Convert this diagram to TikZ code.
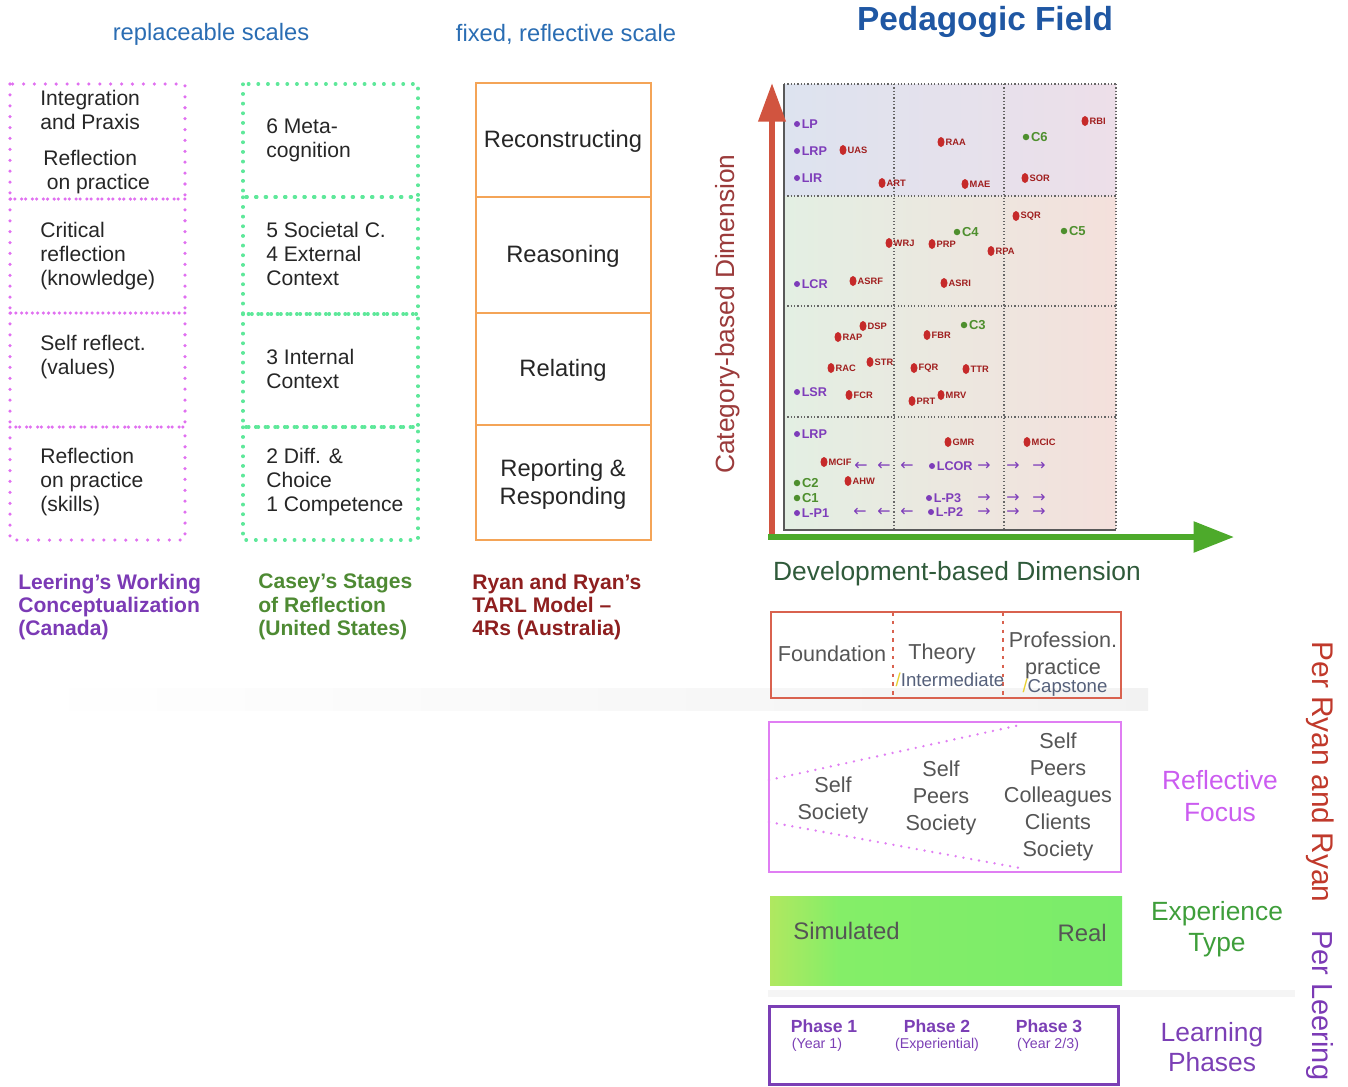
\documentclass[tikz,border=0pt]{standalone}
\usepackage{fontspec}
\setmainfont{Liberation Sans}
\newfontfamily\flechefont{DejaVu Sans}
\usetikzlibrary{arrows.meta,shapes.geometric}

\definecolor{titrebleu}{HTML}{2A6DB3}
\definecolor{champbleu}{HTML}{1F57A3}
\definecolor{violetL}{HTML}{7B3AB5}
\definecolor{vertC}{HTML}{4E8A33}
\definecolor{rougeR}{HTML}{8E1F1F}
\definecolor{magpt}{HTML}{E070F0}
\definecolor{vertpt}{HTML}{5EE89A}
\definecolor{orangeB}{HTML}{F4A457}
\definecolor{ptrouge}{HTML}{C62A2A}
\definecolor{etrouge}{HTML}{A01E1E}
\definecolor{ptviolet}{HTML}{7E3DBA}
\definecolor{ptvert}{HTML}{4E8F2E}
\definecolor{flecherouge}{HTML}{D1543F}
\definecolor{flecheverte}{HTML}{4DAA2B}
\definecolor{axecat}{HTML}{9B3B3B}
\definecolor{axedev}{HTML}{2F5A3A}
\definecolor{grisT}{HTML}{555555}
\definecolor{grisB}{HTML}{55607A}
\definecolor{jauneB}{HTML}{E8D030}
\definecolor{niveau}{HTML}{D9624F}
\definecolor{reflet}{HTML}{E07EF3}
\definecolor{reflettexte}{HTML}{CB5CF0}
\definecolor{exptexte}{HTML}{3E9E3A}
\definecolor{phase}{HTML}{7B3FB5}
\definecolor{perryan}{HTML}{C0392B}
\definecolor{cielA}{HTML}{DDE3EF}
\definecolor{cielB}{HTML}{E9E9E4}
\definecolor{cielC}{HTML}{EDDFE9}
\definecolor{fondA}{HTML}{E3EFE3}
\definecolor{fondB}{HTML}{F6F2DA}
\definecolor{fondC}{HTML}{F4E0DC}
\definecolor{expA}{HTML}{B0E860}
\definecolor{expB}{HTML}{84EE68}
\definecolor{expC}{HTML}{7AEC6A}

\begin{document}
\begin{tikzpicture}[x=0.02cm, y=-0.02cm,
    cellule/.style={inner sep=0pt, anchor=west, align=left, text=black!85,
        font=\fontsize{12}{13.6}\selectfont},
    ryan/.style={inner sep=0pt, align=center, text=black!85,
        font=\fontsize{13.5}{16}\selectfont},
    source/.style={inner sep=0pt, anchor=west, align=left,
        font=\bfseries\fontsize{12}{13.3}\selectfont},
    entete/.style={inner sep=0pt, text=titrebleu, font=\fontsize{13.5}{16}\selectfont},
    ptsmag/.style={draw=magpt, line width=2pt, line cap=round, dash pattern=on 0pt off 6.2pt},
    ptsvert/.style={draw=vertpt, line width=1.9pt, line cap=round, dash pattern=on 0.3pt off 5.2pt},
    boite/.style={draw=orangeB, line width=1.4pt},
    grille/.style={draw=black!60, line width=0.7pt, dash pattern=on 0.7pt off 1.2pt},
    violetpt/.style={circle, fill=ptviolet, inner sep=0pt, minimum size=0.12cm},
    vertpoint/.style={circle, fill=ptvert, inner sep=0pt, minimum size=0.13cm},
    rougept/.style={ellipse, fill=ptrouge, inner sep=0pt, minimum width=0.14cm, minimum height=0.2cm},
    etiqV/.style={inner sep=0pt, anchor=west, text=ptviolet, font=\bfseries\fontsize{7.2}{8}\selectfont},
    etiqVert/.style={inner sep=0pt, anchor=west, text=ptvert, font=\bfseries\fontsize{7.4}{8}\selectfont},
    etiqR/.style={inner sep=0pt, anchor=west, text=etrouge, font=\bfseries\fontsize{5.3}{6}\selectfont},
    petitefleche/.style={inner sep=0pt, text=ptviolet, font=\flechefont\fontsize{9}{10}\selectfont},
    gris/.style={inner sep=0pt, align=center, text=grisT, font=\fontsize{12.3}{15.3}\selectfont},
    titre/.style={inner sep=0pt, align=center, font=\fontsize{15}{18}\selectfont},
    phasetitre/.style={inner sep=0pt, text=phase, font=\bfseries\fontsize{10}{12}\selectfont},
    phasesous/.style={inner sep=0pt, text=phase, font=\fontsize{8.1}{10}\selectfont}]
\useasboundingbox (0,0) rectangle (1348,1086);

% En-têtes
\node[entete] (remp) at (211,34) {replaceable scales};
\node[entete] (fixe) at (566,34) {fixed, reflective scale};
\node[inner sep=0pt, text=champbleu, font=\bfseries\fontsize{19}{22}\selectfont] (champ) at (985,22) {Pedagogic Field};

% Les trois colonnes de cases
\foreach \haut/\bas in {84/199, 199/313, 313/427, 427/540}{
    \draw[ptsmag] (10,\haut) rectangle (185,\bas);
}
\foreach \haut/\bas in {84/197, 197/314, 314/427, 427/540}{
    \draw[ptsvert] (243,\haut) rectangle (418,\bas);
}
\foreach \haut/\bas in {83/197, 197/313, 313/425, 425/540}{
    \draw[boite] (476,\haut) rectangle (651,\bas);
}

% Textes de Leering
\node[cellule] (integ) at (40,110) {Integration\\and Praxis};
\node[cellule] (refpra) at (43,172) {Reflection\\\hspace{2pt}on practice};
\node[cellule] (crit) at (40,256) {Critical\\reflection\\(knowledge)};
\node[cellule] (selfr) at (40,357) {Self reflect.\\(values)};
\node[cellule] (skill) at (40,482) {Reflection\\on practice\\(skills)};

% Textes de Casey
\node[cellule] (meta) at (266,140) {6 Meta-\\cognition};
\node[cellule] (soc) at (266,254) {5 Societal C.\\4 External\\Context};
\node[cellule] (intc) at (266,369) {3 Internal\\Context};
\node[cellule] (comp) at (266,482) {2 Diff. \&\\Choice\\1 Competence};

% Les 4R
\foreach \y/\nom/\texte in {141/recon/Reconstructing, 256/reas/Reasoning,
    370/rela/Relating, 484/repo/{Reporting \&\\Responding}}{
    \node[ryan] (\nom) at (563,\y) {\texte};
}

% Sources
\node[source, text=violetL] (leering) at (18,607) {Leering’s Working\\Conceptualization\\(Canada)};
\node[source, text=vertC] (casey) at (258,607) {Casey’s Stages\\of Reflection\\(United States)};
\node[source, text=rougeR] (ryanR) at (472,607) {Ryan and Ryan’s\\TARL Model –\\4Rs (Australia)};

% Bandes pâles
\shade[left color=white, right color=black!5] (25,688) rectangle (1148,710);
\fill[black!4] (768,990) rectangle (1295,997);

% Le champ : fond et grille
\shade[left color=cielA, middle color=cielB, right color=cielC] (784,84) rectangle (1116,196);
\shade[left color=fondA, middle color=fondB, right color=fondC] (784,196) rectangle (1116,530);
\foreach \x in {894, 1004, 1116}{
    \draw[grille] (\x,84) -- (\x,530);
}
\foreach \y in {84, 196, 306, 417}{
    \draw[grille] (784,\y) -- (1116,\y);
}
\draw[black!65, line width=0.8pt] (784,84) -- (784,530) -- (1116,530);

% Axes
\coordinate (origR) at (772,534);
\coordinate (hautR) at (772,83);
\coordinate (origV) at (768,537);
\coordinate (finV) at (1234,537);
\draw[flecheverte, line width=3.4pt, -{Triangle[length=23pt,width=17pt]}] (origV) -- (finV);
\draw[flecherouge, line width=3.4pt, -{Triangle[length=22pt,width=15pt]}] (origR) -- (hautR);
\node[inner sep=0pt, rotate=90, text=axecat, font=\fontsize{15}{18}\selectfont] (axeC) at (728,314) {Category-based Dimension};
\node[inner sep=0pt, text=axedev, font=\fontsize{15}{18}\selectfont] (axeD) at (957,574) {Development-based Dimension};

% Points violets
\foreach \x/\y/\nom/\texte in {797/124/LP/LP, 797/151/LRPa/LRP, 797/178/LIR/LIR,
    797/284/LCR/LCR, 797/392/LSR/LSR, 797/434/LRPb/LRP, 932/466/LCOR/LCOR,
    929/498/LPtrois/L-P3, 797/513/LPun/L-P1, 931/512/LPdeux/L-P2}{
    \node[violetpt] (p\nom) at (\x,\y) {};
    \node[etiqV] (\nom) at ([xshift=0.6pt]p\nom.east) {\texte};
}

% Points verts
\foreach \x/\y/\nom in {1026/137/C6, 957/232/C4, 1064/231/C5, 964/325/C3,
    797/483/C2, 797/498/C1}{
    \node[vertpoint] (p\nom) at (\x,\y) {};
    \node[etiqVert] (\nom) at ([xshift=0.6pt]p\nom.east) {\nom};
}

% Points rouges
\foreach \x/\y/\nom in {843/150/UAS, 882/183/ART, 941/142/RAA, 965/184/MAE,
    1025/178/SOR, 1085/121/RBI, 1016/216/SQR, 889/243/WRJ, 932/244/PRP,
    991/251/RPA, 853/281/ASRF, 944/283/ASRI, 863/326/DSP, 838/337/RAP,
    927/335/FBR, 831/368/RAC, 870/362/STR, 914/368/FQR, 966/369/TTR,
    849/395/FCR, 912/401/PRT, 941/395/MRV, 948/442/GMR, 1027/442/MCIC,
    824/462/MCIF, 848/481/AHW}{
    \node[rougept] (p\nom) at (\x,\y) {};
    \node[etiqR] (\nom) at ([xshift=0.3pt]p\nom.east) {\nom};
}

% Petites flèches
\foreach \x/\y in {861/466, 884/466, 907/466, 860/512, 884/512, 907/512}{
    \node[petitefleche] (g\x\y) at (\x,\y) {←};
}
\foreach \x/\y in {984/466, 1013/466, 1039/466, 984/498, 1013/498, 1039/498,
    984/512, 1013/512, 1039/512}{
    \node[petitefleche] (d\x\y) at (\x,\y) {→};
}

% Niveaux
\draw[niveau, line width=1.2pt] (771,612) rectangle (1121,698);
\foreach \x in {893, 1003}{
    \draw[niveau, line width=1.3pt, dash pattern=on 2pt off 3pt] (\x,612) -- (\x,698);
}
\node[gris] (found) at (832,654) {Foundation};
\node[gris] (theo) at (942,654) {Theory};
\node[gris, font=\fontsize{10.6}{12}\selectfont, text=grisB] (inter) at (950,680) {\textcolor{jauneB}{/}Intermediate};
\node[gris] (prof) at (1063,655) {Profession.\\practice};
\node[gris, font=\fontsize{10.6}{12}\selectfont, text=grisB] (caps) at (1065,688) {\textcolor{jauneB}{/}Capstone};

% Focus réflexif
\draw[reflet, line width=1.2pt] (769,722) rectangle (1121,872);
\draw[reflet, line width=1.5pt, line cap=round, dash pattern=on 0pt off 4.5pt] (769,780) -- (1020,725);
\draw[reflet, line width=1.5pt, line cap=round, dash pattern=on 0pt off 4.5pt] (769,822) -- (1020,868);
\node[gris] (f1) at (833,800) {Self\\Society};
\node[gris] (f2) at (941,798) {Self\\Peers\\Society};
\node[gris] (f3) at (1058,797) {Self\\Peers\\Colleagues\\Clients\\Society};
\node[titre, text=reflettexte] (focus) at (1220,796) {Reflective\\Focus};

% Expérience
\shade[left color=expA, right color=expB] (770,896) rectangle (840,985);
\shade[left color=expB, right color=expC] (840,896) rectangle (1122,985);
\node[gris, anchor=west, font=\fontsize{13.6}{16}\selectfont] (simu) at (793,931) {Simulated};
\node[gris, anchor=east, font=\fontsize{13.6}{16}\selectfont] (reel) at (1107,933) {Real};
\node[titre, text=exptexte] (exp) at (1217,929) {Experience\\Type};

% Phases
\draw[phase, line width=1.7pt] (769,1006) rectangle (1118,1084);
\foreach \x/\xs/\nom/\titre/\sous in {824/817/un/{Phase 1}/{(Year 1)},
    937/937/deux/{Phase 2}/{(Experiential)}, 1049/1048/trois/{Phase 3}/{(Year 2/3)}}{
    \node[phasetitre] (ph\nom) at (\x,1026) {\titre};
    \node[phasesous] (an\nom) at (\xs,1045) {\sous};
}
\node[titre, text=phase, font=\fontsize{15}{17}\selectfont] (phases) at (1212,1047) {Learning\\Phases};

% Textes verticaux
\node[inner sep=0pt, rotate=-90, text=perryan, font=\fontsize{17}{20}\selectfont] (perR) at (1320,772) {Per Ryan and Ryan};
\node[inner sep=0pt, rotate=-90, anchor=west, text=violetL, font=\fontsize{16.5}{20}\selectfont] (perL) at (1320,930) {Per Leering};
\end{tikzpicture}
\end{document}
